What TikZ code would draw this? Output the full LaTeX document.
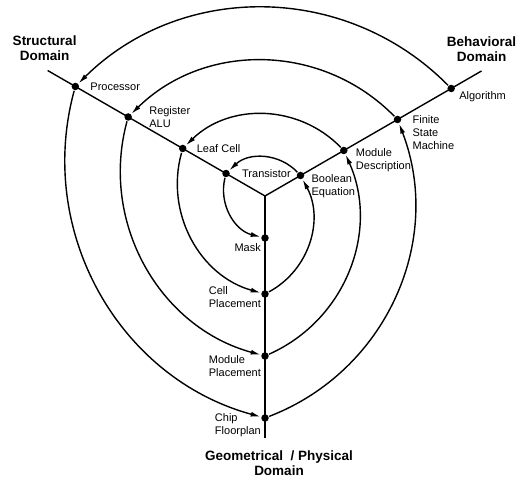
\documentclass[tikz,border=0pt]{standalone}
\usepackage{fontspec}
\setmainfont{Liberation Sans}
\usetikzlibrary{positioning,calc,arrows.meta}

\begin{document}
\begin{tikzpicture}[x=1pt,y=1pt,node distance=4pt,line width=1.4pt]
\tikzset{>={Latex[length=10pt,width=5pt]}}
\tikzset{dot/.style={circle,fill,inner sep=0pt,minimum size=7.5pt}}
\tikzset{lbl/.style={font=\fontsize{11}{13}\selectfont,align=left,inner sep=0pt}}
\tikzset{dom/.style={font=\fontsize{13.5}{15}\selectfont\bfseries,align=center,inner sep=0pt}}
\useasboundingbox (0,0) rectangle (517,478);
  \coordinate (o) at (265,282);
  \coordinate (se) at ([shift={(150:251)}]o);
  \coordinate (be) at ([shift={(30:250)}]o);
  \coordinate (pe) at ([shift={(270:242)}]o);
  \draw (se) -- (o) -- (be);
  \draw (o) -- (pe);
  % behavioral
  \node[dot] (alg) at ([shift={(30:215)}]o) {};
  \node[dot] (fsm) at ([shift={(30:153)}]o) {};
  \node[dot] (mdesc) at ([shift={(30:91)}]o) {};
  \node[dot] (bool) at ([shift={(30:41)}]o) {};
  % structural
  \node[dot] (proc) at ([shift={(150:219)}]o) {};
  \node[dot] (reg) at ([shift={(150:158)}]o) {};
  \node[dot] (leaf) at ([shift={(150:95)}]o) {};
  \node[dot] (trans) at ([shift={(150:45)}]o) {};
  % physical
  \node[dot] (chip) at ([shift={(270:222)}]o) {};
  \node[dot] (mpl) at ([shift={(270:160)}]o) {};
  \node[dot] (cell) at ([shift={(270:98)}]o) {};
  \node[dot] (mask) at ([shift={(270:42)}]o) {};
  \path[->] (alg) edge [bend right=45] (proc);
  \path[->] (proc) edge [bend right=45] (chip);
  \path[->] (chip) edge [bend right=45] (fsm);
  \path[->] (fsm) edge [bend right=45] (reg);
  \path[->] (reg) edge [bend right=45] (mpl);
  \path[->] (mpl) edge [bend right=45] (mdesc);
  \path[->] (mdesc) edge [bend right=45] (leaf);
  \path[->] (leaf) edge [bend right=45] (cell);
  \path[->] (cell) edge [bend right=45] (bool);
  \path[->] (bool) edge [bend right=45] (trans);
  \path[->] (trans) edge [bend right=45] (mask);
  % labels
  \node[lbl,right=3pt of alg,yshift=-8pt] {Algorithm};
  \node[lbl,right=10pt of fsm,yshift=-13pt] {Finite\\State\\Machine};
  \node[lbl,right=7pt of mdesc,yshift=-10pt] {Module\\Description};
  \node[lbl,right=6pt of bool,yshift=-10.5pt] {Boolean\\Equation};
  \node[lbl,right=10pt of proc] {Processor};
  \node[lbl,right=16pt of reg] {Register\\ALU};
  \node[lbl,right=9pt of leaf] {Leaf Cell};
  \node[lbl,right=11pt of trans] {Transistor};
  \node[lbl,left=-1pt of mask,yshift=-10pt] {Mask};
  \node[lbl,left=-1pt of cell,yshift=-3pt] {Cell\\Placement};
  \node[lbl,left=-1pt of mpl,yshift=-10pt] {Module\\Placement};
  \node[lbl,left=-1pt of chip,yshift=-7pt] {Chip\\Floorplan};
  \node[dom,above=9pt of se,xshift=-3pt] {Structural\\Domain};
  \node[dom,above=9pt of be] {Behavioral\\Domain};
  \node[dom,below=12pt of pe,xshift=14pt] {Geometrical~~/ Physical\\Domain};
\end{tikzpicture}
\end{document}
